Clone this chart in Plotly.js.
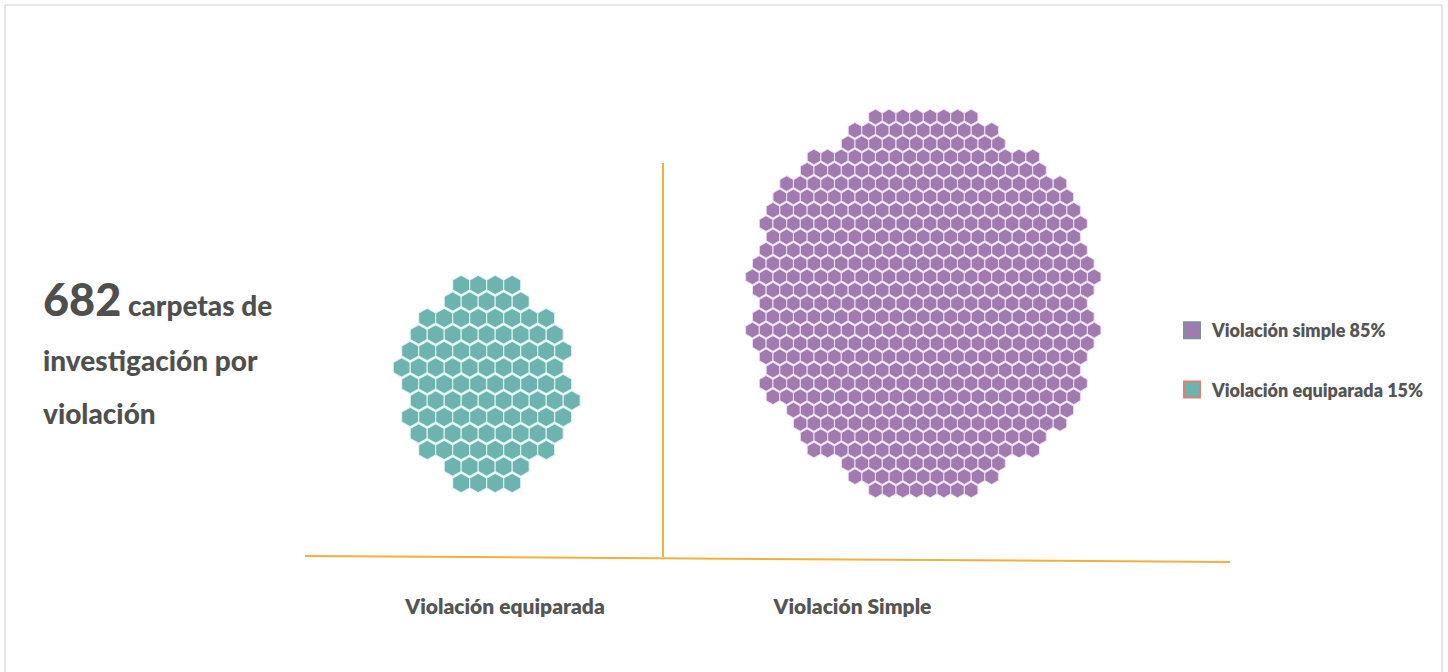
<!DOCTYPE html>
<html><head><meta charset="utf-8">
<script src="https://cdn.plot.ly/plotly-3.0.1.min.js"></script>
<style>html,body{margin:0;padding:0;background:#fff;}#chart{width:1448px;height:672px;}</style>
</head><body><div id="chart"></div>
<script>
// ---------- data ----------
const categories = ['Violación equiparada', 'Violación Simple'];
const legendLabels = ['Violación simple 85%', 'Violación equiparada 15%'];
const totalCarpetas = 682;
// hexagons per row, top to bottom (one hexagon = one carpeta)
const equiparadaRows = [4, 5, 8, 9, 10, 10, 10, 10, 10, 9, 8, 5, 4];            // 102
const simpleRows = [8, 11, 12, 17, 18, 21, 22, 23, 24, 23, 24, 25, 26, 25, 24,
                    25, 26, 25, 24, 23, 24, 23, 21, 20, 18, 17, 12, 11, 8];      // 580

// ---------- styling / layout ----------
const TEAL = '#6DB3B0', PURPLE = '#A17AAF', ORANGE = '#F1B03A', TXT = '#555555';
const FONT = 'Lato, "Open Sans", sans-serif';
const W = 1448, H = 672, MB = 80, PH = H - MB;

function hexGrid(rows, cx, top, sx, sy) {
  const xs = [], ys = [];
  const mid = (rows.length - 1) / 2;
  const phase = ((-(rows[0] - 1) / 2) % 1 + 1) % 1;
  rows.forEach((n, i) => {
    const shift = ((i % 2) * 0.5 + phase) % 1;
    const want = -(n - 1) / 2 - shift;
    let k = Math.round(want);
    if (Math.abs(want - k) > 1e-6) k = i < mid ? Math.floor(want) : Math.ceil(want);
    const s = k + shift;
    for (let j = 0; j < n; j++) { xs.push(cx + (s + j) * sx); ys.push(top + i * sy); }
  });
  return {xs, ys};
}

const eq = hexGrid(equiparadaRows, 486.7, 285, 17, 16.5);
const si = hexGrid(simpleRows, 923.3, 117, 13.67, 13.32);

const traces = [
  {type: 'scatter', mode: 'markers', x: eq.xs, y: eq.ys, name: categories[0], showlegend: false,
   marker: {symbol: 'hexagon', size: 19.6, color: TEAL, line: {color: 'rgba(225,243,242,0.95)', width: 1.1}},
   hovertemplate: categories[0] + '<extra></extra>'},
  {type: 'scatter', mode: 'markers', x: si.xs, y: si.ys, name: categories[1], showlegend: false,
   marker: {symbol: 'hexagon', size: 15.6, color: PURPLE, line: {color: 'rgba(238,220,244,0.95)', width: 1}},
   hovertemplate: categories[1] + '<extra></extra>'},
  {type: 'scatter', mode: 'markers', x: [null], y: [null], name: legendLabels[0], legendgroup: 'a',
   marker: {symbol: 'square', size: 16, color: PURPLE, line: {color: '#7F8EA3', width: 2}}},
  {type: 'scatter', mode: 'markers', x: [null], y: [null], name: legendLabels[1], legendgroup: 'b',
   marker: {symbol: 'square', size: 16, color: TEAL, line: {color: '#D9846F', width: 2}}}
];

const layout = {
  width: W, height: H,
  margin: {l: 0, r: 0, t: 0, b: MB, pad: 0},
  paper_bgcolor: '#ffffff', plot_bgcolor: '#ffffff',
  xaxis: {range: [0, W], showgrid: false, zeroline: false, showline: false, ticks: '',
          tickvals: [505, 852.5], ticktext: categories,
          tickfont: {family: FONT, size: 21, weight: 800, color: TXT}, fixedrange: true},
  yaxis: {range: [PH, 0], showgrid: false, zeroline: false, showline: false,
          showticklabels: false, ticks: '', fixedrange: true},
  showlegend: true,
  legend: {x: 1172 / W, y: 1 - 312 / PH, xanchor: 'left', yanchor: 'top',
           traceorder: 'grouped', tracegroupgap: 33, bgcolor: 'rgba(0,0,0,0)',
           font: {family: FONT, size: 18, weight: 800, color: TXT}},
  shapes: [
    {type: 'line', xref: 'x', yref: 'y', x0: 305, y0: 556, x1: 1230, y1: 562,
     line: {color: ORANGE, width: 2}},
    {type: 'line', xref: 'x', yref: 'y', x0: 663, y0: 163, x1: 663, y1: 557,
     line: {color: ORANGE, width: 2}},
    {type: 'rect', xref: 'paper', yref: 'paper', x0: 5 / W, x1: 1442 / W, y0: -0.3, y1: 1 - 5 / PH,
     line: {color: '#cfcfcf', width: 1}, fillcolor: 'rgba(0,0,0,0)', layer: 'below'}
  ],
  annotations: [
    {xref: 'x', yref: 'y', x: 42, y: 299, xanchor: 'left', yanchor: 'middle', showarrow: false, borderpad: 0,
     text: '<span style="font-size:45px">' + totalCarpetas + '</span> carpetas de',
     font: {family: FONT, size: 28, weight: 900, color: '#4f4f4f'}},
    {xref: 'x', yref: 'y', x: 42, y: 360, xanchor: 'left', yanchor: 'middle', showarrow: false, borderpad: 0,
     text: 'investigación por', font: {family: FONT, size: 28, weight: 900, color: '#4f4f4f'}},
    {xref: 'x', yref: 'y', x: 42, y: 413, xanchor: 'left', yanchor: 'middle', showarrow: false, borderpad: 0,
     text: 'violación', font: {family: FONT, size: 28, weight: 900, color: '#4f4f4f'}}
  ]
};

Plotly.newPlot('chart', traces, layout, {displayModeBar: false, staticPlot: true});
</script></body></html>
